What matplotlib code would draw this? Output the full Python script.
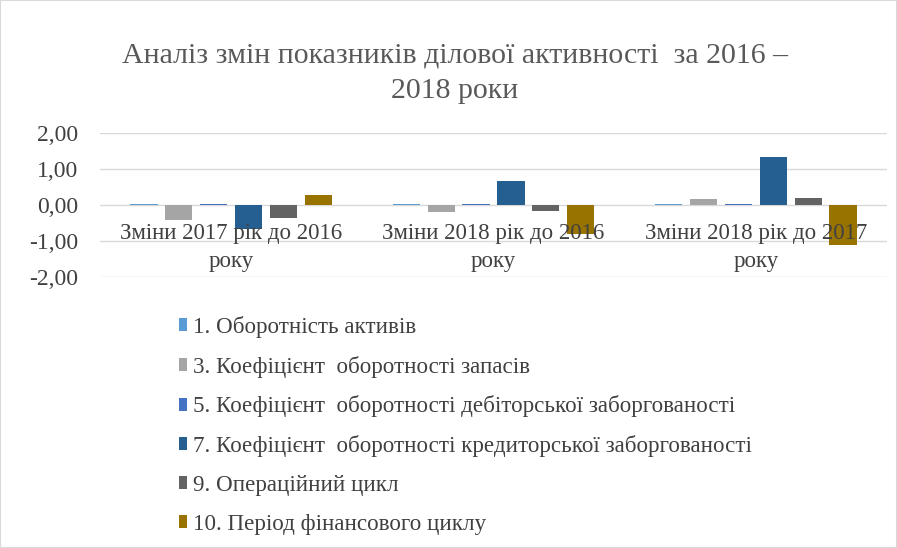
import matplotlib
matplotlib.use("Agg")
import matplotlib.pyplot as plt
import numpy as np
from matplotlib.patches import Rectangle

categories = ["Зміни 2017 рік до 2016\nроку", "Зміни 2018 рік до 2016\nроку", "Зміни 2018 рік до 2017\nроку"]
series_names = [
    "1. Оборотність активів",
    "3. Коефіцієнт  оборотності запасів",
    "5. Коефіцієнт  оборотності дебіторської заборгованості",
    "7. Коефіцієнт  оборотності кредиторської заборгованості",
    "9. Операційний цикл",
    "10. Період фінансового циклу",
]
s1 = [0.02, 0.02, 0.02]
s3 = [-0.41, -0.20, 0.17]
s5 = [0.02, 0.02, 0.02]
s7 = [-0.68, 0.68, 1.32]
s9 = [-0.37, -0.17, 0.20]
s10 = [0.27, -0.80, -1.10]
values = [s1, s3, s5, s7, s9, s10]
colors = ["#5B9BD5", "#A5A5A5", "#4472C4", "#255E91", "#636363", "#997300"]
yticks = [2.0, 1.0, 0.0, -1.0, -2.0]
ytick_labels = ["2,00", "1,00", "0,00", "-1,00", "-2,00"]

plt.rcParams['font.family'] = ['Liberation Serif', 'DejaVu Serif']

fig = plt.figure(figsize=(8.97, 5.48), dpi=100)
ax = fig.add_axes([100/897, 1 - 277/548, (887-100)/897, (277-133)/548])

x = np.arange(len(categories))
step = 0.133
width = 0.104
for i, (vals, c, name) in enumerate(zip(values, colors, series_names)):
    ax.bar(x + (i - 2.5) * step, vals, width, color=c, label=name, zorder=3)

ax.set_xlim(-0.5, 2.5)
ax.set_ylim(-2, 2)
ax.set_yticks(yticks)
ax.set_yticklabels(ytick_labels, fontsize=17, color="#404040")
ax.set_xticks([])
for y in yticks:
    ax.axhline(y, color="#D9D9D9", lw=1, zorder=1)
for s in ax.spines.values():
    s.set_visible(False)
ax.tick_params(axis='y', length=0, pad=16)

for xi, cat in zip(x, categories):
    ax.text(xi, -0.5, cat, ha='center', va='top', fontsize=16.5, color="#404040",
            linespacing=1.45, zorder=4)

fig.text(0.507, 1 - 55/548, "Аналіз змін показників ділової активності  за 2016 –",
         ha='center', va='center', fontsize=21.5, color="#595959")
fig.text(0.507, 1 - 91/548, "2018 роки", ha='center', va='center', fontsize=21.5, color="#595959")

handles, labels = ax.get_legend_handles_labels()
leg = fig.legend(handles, labels, loc='upper left', bbox_to_anchor=(158/897, 1 - 295/548),
                 frameon=False, fontsize=16.6, labelspacing=0.77, handlelength=0.34,
                 handleheight=0.5, handletextpad=0.28, labelcolor="#404040")

fig.patches.append(Rectangle((0, 0), 1, 1, transform=fig.transFigure, fill=False,
                             edgecolor="#D9D9D9", lw=1.5))
fig.savefig("out.png", dpi=100)
